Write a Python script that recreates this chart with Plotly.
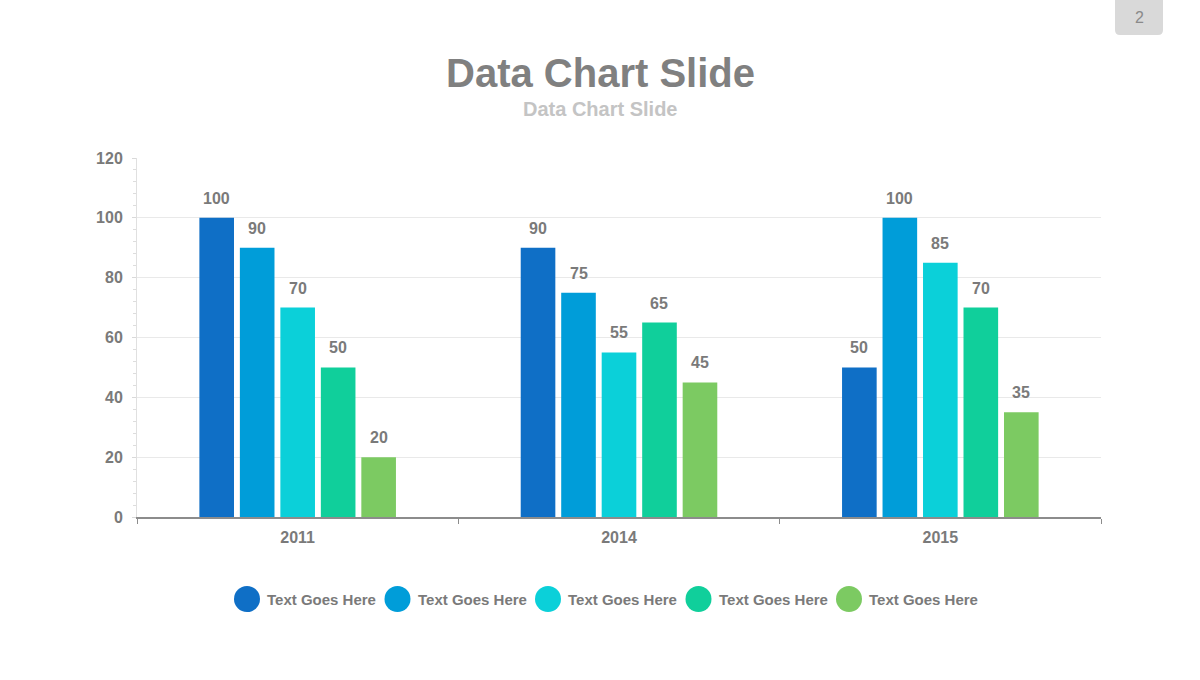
import plotly.graph_objects as go

categories = ["2011", "2014", "2015"]
series_names = ["Text Goes Here"] * 5
series_values = [
    [100, 90, 50],
    [90, 75, 100],
    [70, 55, 85],
    [50, 65, 70],
    [20, 45, 35],
]
colors = ["#0F6FC6", "#009DD9", "#0BD0D9", "#10CF9B", "#7CCA62"]
y_ticks = [0, 20, 40, 60, 80, 100, 120]

FONT = "Liberation Sans, Arial, sans-serif"
GRAY = "#7a7a7a"

W, H = 1200, 680
ml, mt = 137, 158
mr = W - 1101
mb = H - 517
pw = W - ml - mr
ph = H - mt - mb


def fx(px):
    return (px - ml) / pw


def fy(py):
    return (H - mb - py) / ph


BARGAP = 0.37
BARGROUPGAP = 0.145
n_series = len(series_values)

fig = go.Figure()
for name, vals, col in zip(series_names, series_values, colors):
    fig.add_trace(go.Bar(
        x=categories, y=vals, name=name, marker_color=col, marker_line_width=0,
        showlegend=False,
    ))

annotations = []
shapes = []

# value labels above bars (positioned on the axes' own scales)
slot = (1 - BARGAP) / n_series
for j, vals in enumerate(series_values):
    for i, v in enumerate(vals):
        xpos = i - (1 - BARGAP) / 2 + slot * (j + 0.5)
        annotations.append(dict(
            x=xpos, y=v, xref="x", yref="y", text="<b>%d</b>" % v,
            showarrow=False, xanchor="center", yanchor="bottom", yshift=9,
            font=dict(family=FONT, size=16, color=GRAY),
        ))

# custom legend with large circles
leg_y_px = 599
leg_x0 = 247
leg_step = 150.5
r = 13
for i, (name, col) in enumerate(zip(series_names, colors)):
    cx = leg_x0 + i * leg_step
    shapes.append(dict(type="circle", xref="paper", yref="paper",
                       x0=fx(cx - r), x1=fx(cx + r),
                       y0=fy(leg_y_px + r), y1=fy(leg_y_px - r),
                       fillcolor=col, line_width=0))
    annotations.append(dict(text="<b>" + name + "</b>", xref="paper", yref="paper",
                            x=fx(cx + r + 5), y=fy(leg_y_px),
                            xanchor="left", yanchor="middle", showarrow=False,
                            font=dict(family=FONT, size=15, color=GRAY)))

# page number box (rounded bottom corners)
bx0, bx1, by0, by1, rr = fx(1115), fx(1163), fy(0), fy(35), 5
rx = rr / pw
ry = rr / ph
path = (f"M {bx0},{by0} L {bx1},{by0} L {bx1},{by1 + ry} "
        f"Q {bx1},{by1} {bx1 - rx},{by1} L {bx0 + rx},{by1} "
        f"Q {bx0},{by1} {bx0},{by1 + ry} Z")
shapes.append(dict(type="path", xref="paper", yref="paper", path=path,
                   fillcolor="#D9D9D9", line_width=0))
annotations.append(dict(text="2", xref="paper", yref="paper",
                        x=fx(1139), y=fy(18), xanchor="center", yanchor="middle",
                        showarrow=False, font=dict(family=FONT, size=16, color="#8a8a8a")))

# titles
annotations.append(dict(text="<b>Data Chart Slide</b>", xref="paper", yref="paper",
                        x=fx(600), y=fy(73), xanchor="center", yanchor="middle",
                        showarrow=False,
                        font=dict(family=FONT, size=40, color="#808080")))
annotations.append(dict(text="<b>Data Chart Slide</b>", xref="paper", yref="paper",
                        x=fx(600), y=fy(109), xanchor="center", yanchor="middle",
                        showarrow=False,
                        font=dict(family=FONT, size=20, color="#C4C4C4")))

fig.update_layout(
    width=W, height=H,
    margin=dict(l=ml, r=mr, t=mt, b=mb, pad=0),
    paper_bgcolor="white", plot_bgcolor="white",
    barmode="group", bargap=BARGAP, bargroupgap=BARGROUPGAP,
    shapes=shapes, annotations=annotations,
    font=dict(family=FONT),
)
fig.update_xaxes(
    type="category", showline=True, linecolor="#8c8c8c", linewidth=2,
    ticks="outside", tickson="boundaries", ticklen=5, tickcolor="#8c8c8c", tickwidth=1,
    tickfont=dict(family=FONT, size=16, color=GRAY, weight="bold"),
    ticklabelstandoff=5,
    showgrid=False,
)
fig.update_yaxes(
    range=[0, 120], tickvals=y_ticks, showgrid=True, gridcolor="#E9E9E9", gridwidth=1,
    showline=True, linecolor="#E0E0E0", linewidth=1, zeroline=False,
    ticks="outside", ticklen=4, tickcolor="#D9D9D9",
    minor=dict(dtick=4, ticks="outside", ticklen=3, tickcolor="#DDDDDD", showgrid=False),
    tickfont=dict(family=FONT, size=16, color=GRAY, weight="bold"),
    ticklabelstandoff=6,
)

fig.write_html(
    "out.html",
    config={"displayModeBar": False},
    post_script="document.body.style.margin='0';document.body.style.overflow='hidden';",
)
